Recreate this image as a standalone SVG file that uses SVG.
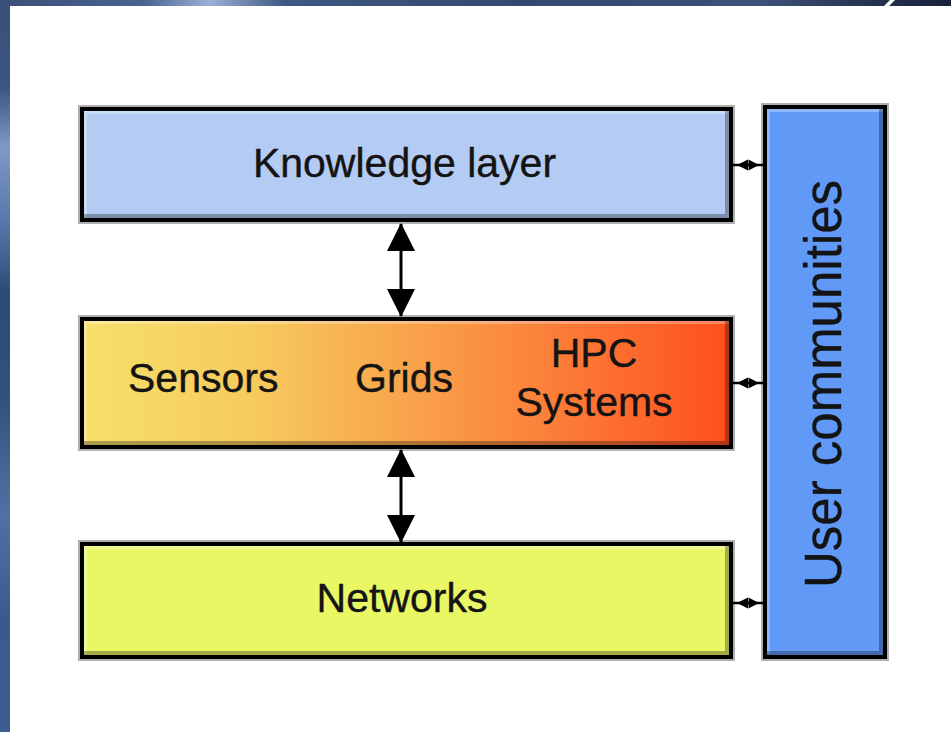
<svg xmlns="http://www.w3.org/2000/svg" width="951" height="732" viewBox="0 0 951 732">
  <defs>
    <linearGradient id="bgTop" x1="0" y1="0" x2="1" y2="0">
      <stop offset="0" stop-color="#3a5078"/>
      <stop offset="0.15" stop-color="#4a6290"/>
      <stop offset="0.22" stop-color="#9ab0d6"/>
      <stop offset="0.3" stop-color="#3f5782"/>
      <stop offset="0.55" stop-color="#34496f"/>
      <stop offset="0.8" stop-color="#3e5179"/>
      <stop offset="0.92" stop-color="#25324f"/>
      <stop offset="1" stop-color="#18213a"/>
    </linearGradient>
    <linearGradient id="bgLeft" x1="0" y1="0" x2="0" y2="1">
      <stop offset="0" stop-color="#3a5078"/>
      <stop offset="0.12" stop-color="#3b5482"/>
      <stop offset="0.2" stop-color="#7f99c8"/>
      <stop offset="0.3" stop-color="#5a78aa"/>
      <stop offset="0.4" stop-color="#2e4a78"/>
      <stop offset="0.55" stop-color="#34507e"/>
      <stop offset="0.7" stop-color="#5270a2"/>
      <stop offset="0.85" stop-color="#3a5a8e"/>
      <stop offset="1" stop-color="#3d5c92"/>
    </linearGradient>
    <linearGradient id="midFill" x1="0" y1="0" x2="1" y2="0">
      <stop offset="0" stop-color="#f6e06a"/>
      <stop offset="0.25" stop-color="#f6cc5e"/>
      <stop offset="0.5" stop-color="#f9a44c"/>
      <stop offset="0.75" stop-color="#fc7a36"/>
      <stop offset="1" stop-color="#ff4e1e"/>
    </linearGradient>
    <marker id="bigHead" viewBox="0 0 28 30" markerWidth="28" markerHeight="30" refX="27" refY="15" orient="auto-start-reverse" markerUnits="userSpaceOnUse">
      <path d="M0,1 L28,15 L0,29 Z" fill="#000"/>
    </marker>
  </defs>
  <style>
    .halo { fill: none; stroke: #b0b0b0; stroke-width: 8; }
    .border { stroke: #000; stroke-width: 4; }
    .hi { fill: none; stroke: #ffffff; stroke-opacity: 0.3; stroke-width: 3; }
    .lo { fill: none; stroke: #000000; stroke-opacity: 0.3; stroke-width: 4; }
    .lbl { font-family: "Liberation Sans", Arial, sans-serif; font-size: 41px; fill: #141414; stroke: #141414; stroke-width: 0.4; }
    .conn { stroke: #000; stroke-width: 3; fill: none; }
    .thin { stroke: #000; stroke-width: 2.5; fill: none; }
    .tiny { fill: #000; }
  </style>

  <!-- background -->
  <rect x="0" y="0" width="951" height="732" fill="#ffffff"/>
  <rect x="0" y="0" width="951" height="6" fill="url(#bgTop)"/>
  <rect x="0" y="0" width="10" height="732" fill="url(#bgLeft)"/>
  <polygon points="884,6 890,0 895,0 889,6" fill="#ffffff"/>

  <g id="knowledge">
    <rect class="halo" x="82" y="109" width="649" height="111"/>
    <rect class="border" x="82" y="109" width="649" height="111" fill="#b4ccf3"/>
    <path class="hi" d="M85.5,217 V112.5 H729"/>
    <path class="lo" d="M84,216 H727 V111"/>
    <text class="lbl" x="404.5" y="177" text-anchor="middle">Knowledge layer</text>
  </g>

  <g id="middle">
    <rect class="halo" x="82" y="319" width="649" height="128"/>
    <rect class="border" x="82" y="319" width="649" height="128" fill="url(#midFill)"/>
    <path class="hi" d="M85.5,444 V322.5 H729"/>
    <path class="lo" d="M84,443 H727 V321"/>
    <text class="lbl" x="128" y="392">Sensors</text>
    <text class="lbl" x="404" y="392" text-anchor="middle">Grids</text>
    <text class="lbl" x="594" y="367" text-anchor="middle">HPC</text>
    <text class="lbl" x="594" y="416" text-anchor="middle">Systems</text>
  </g>

  <g id="networks">
    <rect class="halo" x="82" y="544" width="649" height="113"/>
    <rect class="border" x="82" y="544" width="649" height="113" fill="#eaf764"/>
    <path class="hi" d="M85.5,654 V547.5 H729"/>
    <path class="lo" d="M84,653 H727 V546"/>
    <text class="lbl" x="402" y="612" text-anchor="middle">Networks</text>
  </g>

  <g id="users">
    <rect class="halo" x="765" y="107" width="120" height="550"/>
    <rect class="border" x="765" y="107" width="120" height="550" fill="#6199f6"/>
    <path class="hi" d="M768.5,654 V110.5 H883"/>
    <path class="lo" d="M767,653 H881 V109"/>
    <text class="lbl" x="841" y="384" text-anchor="middle" style="font-size:51px" transform="rotate(-90 841 384)">User communities</text>
  </g>

  <g id="connectors">
    <line class="conn" x1="401" y1="224" x2="401" y2="316" marker-start="url(#bigHead)" marker-end="url(#bigHead)"/>
    <line class="conn" x1="401" y1="450" x2="401" y2="542" marker-start="url(#bigHead)" marker-end="url(#bigHead)"/>
    <line class="thin" x1="733" y1="165" x2="763" y2="165"/>
    <path class="tiny" d="M737,165 L748,159.5 L748,170.5 Z M759,165 L748.5,159.5 L748.5,170.5 Z"/>
    <line class="thin" x1="733" y1="383" x2="763" y2="383"/>
    <path class="tiny" d="M737,383 L748,377.5 L748,388.5 Z M759,383 L748.5,377.5 L748.5,388.5 Z"/>
    <line class="thin" x1="733" y1="603" x2="763" y2="603"/>
    <path class="tiny" d="M737,603 L748,597.5 L748,608.5 Z M759,603 L748.5,597.5 L748.5,608.5 Z"/>
  </g>
</svg>
